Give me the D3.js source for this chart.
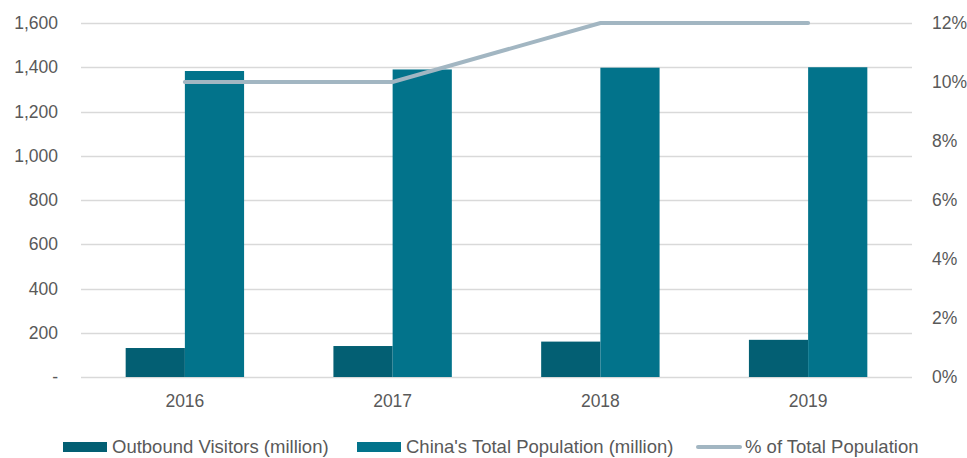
<!DOCTYPE html>
<html>
<head>
<meta charset="utf-8">
<script src="https://cdn.jsdelivr.net/npm/d3@7"></script>
<style>
  body { margin: 0; background: #fff; }
  text { font-family: "Liberation Sans", Arial, sans-serif; fill: #595959; }
</style>
</head>
<body>
<div id="chart-area"><svg></svg></div>
<script>
const years = ["2016", "2017", "2018", "2019"];
const outbound = [131, 140, 160, 168];
const population = [1383, 1390, 1398, 1400];
const pctTotal = [0.10, 0.10, 0.12, 0.12];
const leftTicks = [0, 200, 400, 600, 800, 1000, 1200, 1400, 1600];
const rightTicks = [0, 0.02, 0.04, 0.06, 0.08, 0.10, 0.12];
const legendLabels = ["Outbound Visitors (million)", "China's Total Population (million)", "% of Total Population"];

const chartSize = { width: 967, height: 458 };
const margin = { left: 81, right: 55, top: 23, bottom: 81 };
const width = chartSize.width - margin.left - margin.right;
const height = chartSize.height - margin.top - margin.bottom;
const colors = { outbound: "#035f73", population: "#02738b", line: "#a2b6c2", grid: "#d9d9d9" };

const drawChart = () => {
    const svg = d3.select('#chart-area svg')
        .attr('width', chartSize.width)
        .attr('height', chartSize.height);

    const g = svg.append('g')
        .attr('transform', `translate(${margin.left},${margin.top})`);

    const x = d3.scaleBand().domain(years).range([0, width]);
    const y = d3.scaleLinear().domain([0, 1600]).range([height, 0]);
    const y2 = d3.scaleLinear().domain([0, 0.12]).range([height, 0]);

    const barWidth = x.bandwidth() * 0.285;

    // gridlines
    g.append('g')
        .selectAll('line')
        .data(leftTicks)
        .enter()
        .append('line')
        .attr('x1', 0)
        .attr('x2', width)
        .attr('y1', d => Math.round(y(d)) + 0.5)
        .attr('y2', d => Math.round(y(d)) + 0.5)
        .attr('stroke', colors.grid)
        .attr('stroke-width', 1.3);

    const leftFormat = d => d === 0 ? "-" : d3.format(",")(d);
    const yAxis = d3.axisLeft(y).tickValues(leftTicks).tickFormat(leftFormat).tickSize(0).tickPadding(23);
    g.append('g').attr('class', 'y-axis').call(yAxis)
        .call(a => a.select('.domain').remove())
        .selectAll('text').style('font-size', '17.5px');

    const y2Axis = d3.axisRight(y2).tickValues(rightTicks).tickFormat(d3.format(".0%")).tickSize(0).tickPadding(20);
    g.append('g').attr('class', 'y2-axis').attr('transform', `translate(${width},0)`).call(y2Axis)
        .call(a => a.select('.domain').remove())
        .selectAll('text').style('font-size', '17.5px');

    const xAxis = d3.axisBottom(x).tickSize(0).tickPadding(18);
    g.append('g').attr('class', 'x-axis').attr('transform', `translate(0,${height})`).call(xAxis)
        .call(a => a.select('.domain').remove())
        .selectAll('text').style('font-size', '17.5px');

    // bars
    g.append('g')
        .selectAll('rect')
        .data(outbound)
        .enter()
        .append('rect')
        .attr('x', (d, i) => x(years[i]) + x.bandwidth() / 2 - barWidth)
        .attr('y', d => y(d))
        .attr('width', barWidth)
        .attr('height', d => height - y(d))
        .attr('fill', colors.outbound);

    g.append('g')
        .selectAll('rect')
        .data(population)
        .enter()
        .append('rect')
        .attr('x', (d, i) => x(years[i]) + x.bandwidth() / 2)
        .attr('y', d => y(d))
        .attr('width', barWidth)
        .attr('height', d => height - y(d))
        .attr('fill', colors.population);

    const line = d3.line()
        .x((d, i) => x(years[i]) + x.bandwidth() / 2)
        .y(d => y2(d));

    g.append('path')
        .attr('d', line(pctTotal))
        .attr('fill', 'none')
        .attr('stroke', colors.line)
        .attr('stroke-width', 4)
        .attr('stroke-linecap', 'round');

    // legend
    const legend = svg.append('g').attr('transform', 'translate(0,447)');
    const items = [
        { x: 63, label: legendLabels[0], color: colors.outbound, type: 'rect' },
        { x: 357, label: legendLabels[1], color: colors.population, type: 'rect' },
        { x: 696, label: legendLabels[2], color: colors.line, type: 'line' }
    ];
    items.forEach(item => {
        if (item.type === 'rect') {
            legend.append('rect').attr('x', item.x).attr('y', -5).attr('width', 44).attr('height', 10).attr('fill', item.color);
        } else {
            legend.append('line').attr('x1', item.x + 2).attr('x2', item.x + 44).attr('y1', 0).attr('y2', 0)
                .attr('stroke', item.color).attr('stroke-width', 4).attr('stroke-linecap', 'round');
        }
        legend.append('text')
            .attr('x', item.x + 49)
            .attr('y', 0)
            .attr('dy', '0.35em')
            .style('font-size', '18.5px')
            .text(item.label);
    });
};

drawChart();
</script>
</body>
</html>
